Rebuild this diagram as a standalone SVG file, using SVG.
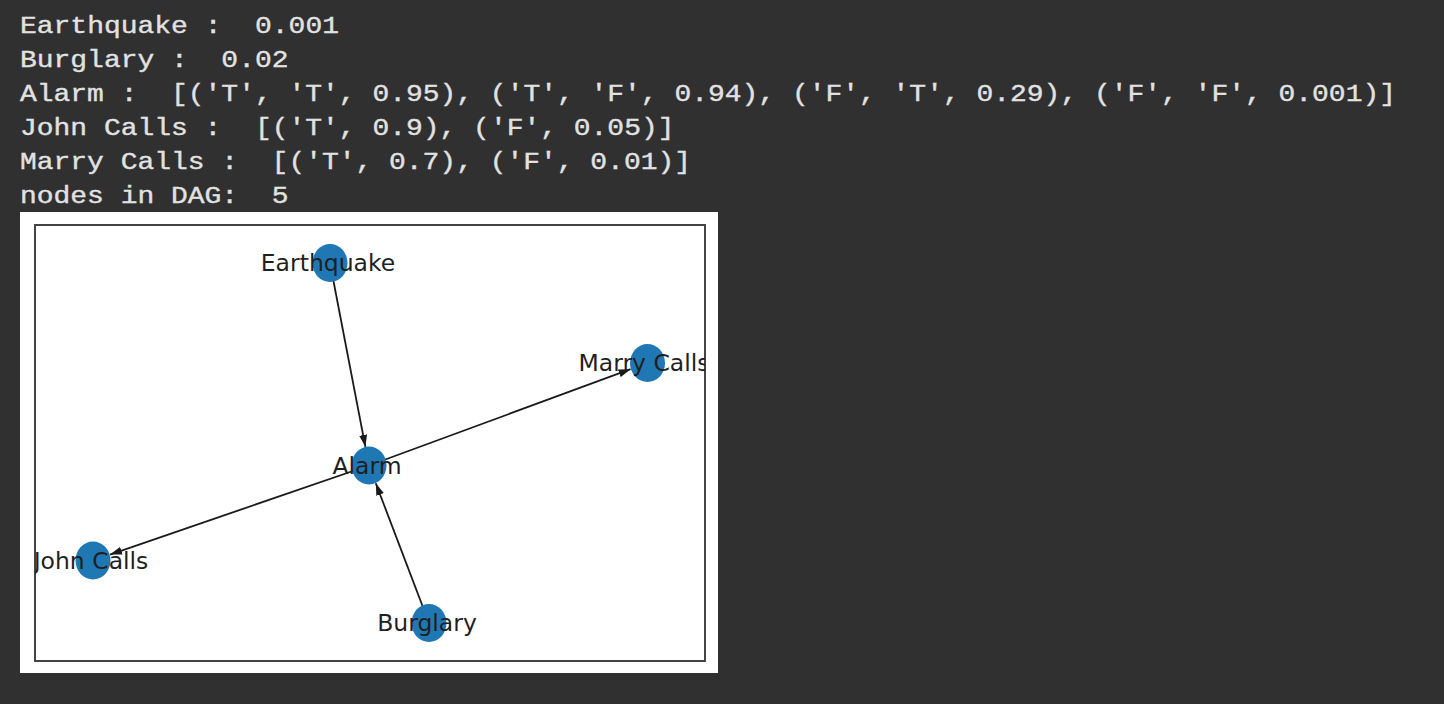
<svg xmlns="http://www.w3.org/2000/svg" width="1444" height="704" viewBox="0 0 1444 704">
<style>
.out{font-family:"Liberation Mono","Courier New",monospace;font-size:23px;fill:#e2e2e2;stroke:#e2e2e2;stroke-width:0.35;white-space:pre}
.node{fill:#1f77b4}
.lbl{font-family:"DejaVu Sans","Liberation Sans",sans-serif;font-size:23.5px;fill:#1f1f1f;text-anchor:middle}
.edge{stroke:#1a1a1a;stroke-width:1.8;fill:none;marker-end:url(#arr)}
</style>
<defs>
<marker id="arr" markerUnits="userSpaceOnUse" markerWidth="12" markerHeight="8" refX="12" refY="4" orient="auto">
<path d="M0,0 L12,4 L0,8 z" fill="#1a1a1a"/>
</marker>
<clipPath id="frameClip"><rect x="35" y="225" width="670" height="436"/></clipPath>
</defs>
<rect x="0" y="0" width="1444" height="704" fill="#303030"/>
<g id="output" xml:space="preserve">
<text class="out" x="20" y="32.5" textLength="319" lengthAdjust="spacingAndGlyphs">Earthquake :  0.001</text>
<text class="out" x="20" y="66.5" textLength="268.5" lengthAdjust="spacingAndGlyphs">Burglary :  0.02</text>
<text class="out" x="20" y="100.5" textLength="1376" lengthAdjust="spacingAndGlyphs">Alarm :  [('T', 'T', 0.95), ('T', 'F', 0.94), ('F', 'T', 0.29), ('F', 'F', 0.001)]</text>
<text class="out" x="20" y="134.5" textLength="654.5" lengthAdjust="spacingAndGlyphs">John Calls :  [('T', 0.9), ('F', 0.05)]</text>
<text class="out" x="20" y="168.5" textLength="671" lengthAdjust="spacingAndGlyphs">Marry Calls :  [('T', 0.7), ('F', 0.01)]</text>
<text class="out" x="20" y="202.5" textLength="268.5" lengthAdjust="spacingAndGlyphs">nodes in DAG:  5</text>
</g>
<rect id="panel" x="20" y="212" width="698" height="461" fill="#ffffff"/>
<rect id="frame" x="35" y="225" width="670" height="436" fill="none" stroke="#444" stroke-width="2"/>
<g id="connectors">
<line class="edge" x1="330" y1="263" x2="365.4" y2="446.8"/>
<line class="edge" x1="429" y1="623" x2="375.8" y2="483.3"/>
<line class="edge" x1="369" y1="465.5" x2="630.6" y2="369.2"/>
<line class="edge" x1="369" y1="465.5" x2="110" y2="554.6"/>
</g>
<g clip-path="url(#frameClip)">
<g id="node-earthquake"><ellipse class="node" cx="330" cy="263" rx="17.5" ry="19"/><text class="lbl" x="328" y="271">Earthquake</text></g>
<g id="node-marry"><ellipse class="node" cx="647.5" cy="363" rx="17.5" ry="19"/><text class="lbl" x="644" y="371">Marry Calls</text></g>
<g id="node-alarm"><ellipse class="node" cx="369" cy="465.5" rx="17.5" ry="19"/><text class="lbl" x="367" y="473.5">Alarm</text></g>
<g id="node-john"><ellipse class="node" cx="93" cy="560.5" rx="17.5" ry="19"/><text class="lbl" x="91" y="568.5">John Calls</text></g>
<g id="node-burglary"><ellipse class="node" cx="429" cy="623" rx="17.5" ry="19"/><text class="lbl" x="427" y="631">Burglary</text></g>
</g>
</svg>
